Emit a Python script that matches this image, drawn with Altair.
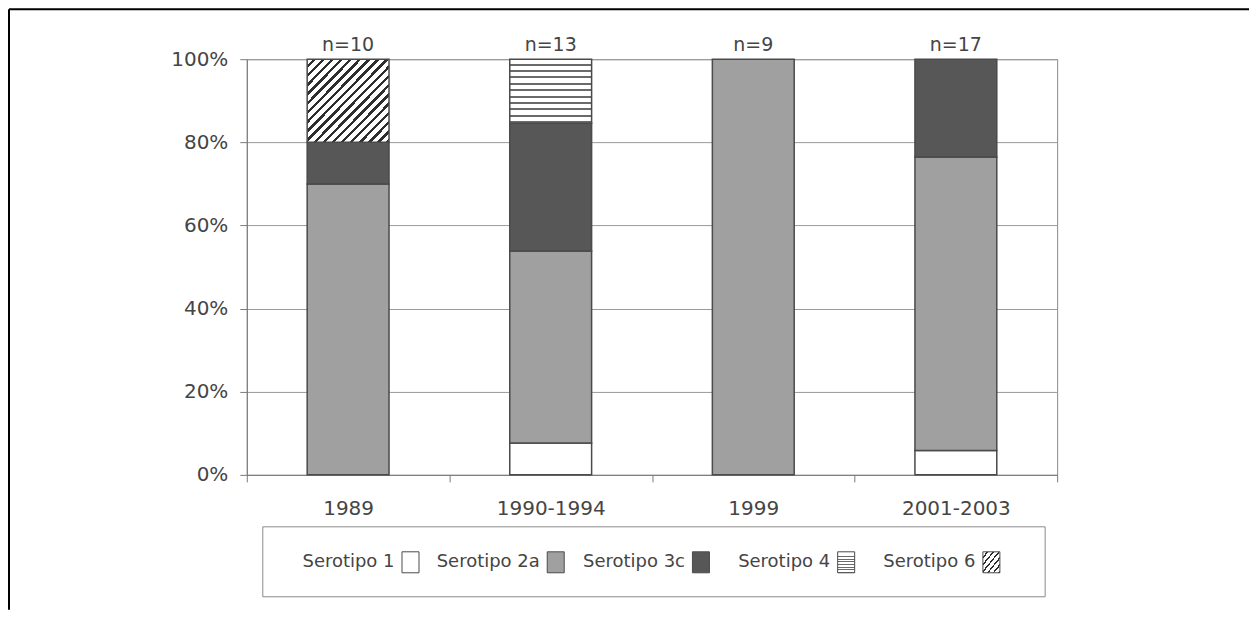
import altair as alt
import pandas as pd

# ---------------- data ----------------
periods = ["1989", "1990-1994", "1999", "2001-2003"]
serotypes = ["Serotipo 1", "Serotipo 2a", "Serotipo 3c", "Serotipo 4", "Serotipo 6"]
count_s1 = [0, 1, 0, 1]
count_s2a = [7, 6, 9, 12]
count_s3c = [1, 4, 0, 4]
count_s4 = [0, 2, 0, 0]
count_s6 = [2, 0, 0, 0]
n_sizes = [10, 13, 9, 17]
y_ticks = [0, 0.2, 0.4, 0.6, 0.8, 1.0]

counts = [count_s1, count_s2a, count_s3c, count_s4, count_s6]
rows = []
for i, s in enumerate(serotypes):
    for j, p in enumerate(periods):
        rows.append({"period": p, "serotype": s, "order": i, "count": counts[i][j]})
df = pd.DataFrame(rows)
ndf = pd.DataFrame({"period": periods, "n": n_sizes})
legdf = pd.DataFrame({"serotype": serotypes})
dummy = pd.DataFrame({"k": [0]})

# ---------------- styles ----------------
FONT = "DejaVu Sans"
TXT = "#454545"
GRID = "#9a9a9a"
OUTLINE = "#4a4a4a"


def stripes(n, frac, line, diagonal):
    stops = []
    for k in range(n):
        a, b, c = k / n, (k + 1 - frac) / n, (k + 1) / n
        stops += [{"offset": a, "color": "#ffffff"}, {"offset": b, "color": "#ffffff"},
                  {"offset": b, "color": line}, {"offset": c, "color": line}]
    return {"gradient": "linear", "x1": 0, "y1": 0, "x2": 1 if diagonal else 0, "y2": 1,
            "stops": stops}


bar_fills = {
    "Serotipo 1": "#ffffff",
    "Serotipo 2a": "#a0a0a0",
    "Serotipo 3c": "#575757",
    "Serotipo 4": stripes(10, 0.3, "#6a6a6a", False),
    "Serotipo 6": stripes(18, 0.38, "#2e2e2e", True),
}
leg_fills = {
    "Serotipo 1": "#ffffff",
    "Serotipo 2a": "#a0a0a0",
    "Serotipo 3c": "#575757",
    "Serotipo 4": stripes(8, 0.35, "#6a6a6a", False),
    "Serotipo 6": stripes(6, 0.3, "#2e2e2e", True),
}

x_axis = alt.Axis(title=None, labelAngle=0, tickBand="extent", tickSize=7,
                  labelPadding=17, labelFont=FONT, labelFontSize=20, labelColor=TXT,
                  domainColor="#7a7a7a", tickColor="#7a7a7a", grid=False)
y_axis = alt.Axis(title=None, format=".0%", values=y_ticks, tickSize=7, labelPadding=12,
                  labelFont=FONT, labelFontSize=20, labelColor=TXT, grid=True,
                  gridColor=GRID, domainColor="#7a7a7a", tickColor="#7a7a7a")
x_enc = alt.X("period:N", scale=alt.Scale(domain=periods, paddingInner=0, paddingOuter=0),
              axis=x_axis, title=None)
y_scale = alt.Scale(domain=[0, 1], nice=False)

base = alt.Chart(df).transform_filter("datum.count > 0").transform_stack(
    stack="count", groupby=["period"], as_=["y0", "y1"], offset="normalize",
    sort=[alt.SortField("order", order="ascending")])

bar_layers = []
for s in serotypes:
    bar_layers.append(
        base.transform_filter(alt.datum.serotype == s)
        .mark_bar(fill=bar_fills[s], stroke=OUTLINE, strokeWidth=1.5,
                  width=alt.RelativeBandSize(0.404))
        .encode(x=x_enc,
                y=alt.Y("y0:Q", scale=y_scale, axis=y_axis, title=None),
                y2="y1:Q")
    )

ntext = alt.Chart(ndf).transform_calculate(label="'n=' + datum.n").mark_text(
    dy=-8, baseline="alphabetic", font=FONT, fontSize=19, color=TXT
).encode(x=x_enc, y=alt.Y(datum=1.0, scale=y_scale, axis=y_axis, title=None), text="label:N")

bars = alt.layer(*bar_layers, ntext)

# ---------------- legend ----------------
leg_x = alt.X("serotype:N", scale=alt.Scale(type="point", domain=serotypes, padding=0.79), axis=None)
legbox = alt.Chart(dummy).mark_rect(fill="white", stroke="#8a8a8a", strokeWidth=1).encode(
    x=alt.value(16), x2=alt.value(799), y=alt.value(468), y2=alt.value(538))
legtext = alt.Chart(legdf).mark_text(align="right", baseline="middle", dx=33, font=FONT,
                                     fontSize=18, color=TXT).encode(
    x=leg_x, y=alt.value(503), text="serotype:N")
RECT = "M-0.81,-1H0.81V1H-0.81Z"
swatches = []
for s in serotypes:
    swatches.append(
        alt.Chart(legdf).transform_filter(alt.datum.serotype == s)
        .mark_point(shape=RECT, size=441, filled=True, fill=leg_fills[s], stroke=OUTLINE,
                    strokeWidth=1, opacity=1, xOffset=49)
        .encode(x=leg_x, y=alt.value(503.5))
    )
legend = alt.layer(legbox, legtext, *swatches)

# ---------------- page frame ----------------
top_rule = alt.Chart(dummy).mark_rule(color="black", strokeWidth=2).encode(
    x=alt.value(-238), x2=alt.value(1003), y=alt.value(-50))
left_rule = alt.Chart(dummy).mark_rule(color="black", strokeWidth=2).encode(
    x=alt.value(-238), y=alt.value(-50), y2=alt.value(551))
frame = alt.layer(top_rule, left_rule)

chart = alt.layer(bars, legend, frame).resolve_scale(x="independent").properties(
    width=811, height=416, padding=0, background="white"
).configure_view(stroke="#8a8a8a", strokeWidth=1)

chart.save("out.html", embed_options={"renderer": "svg", "actions": False})
